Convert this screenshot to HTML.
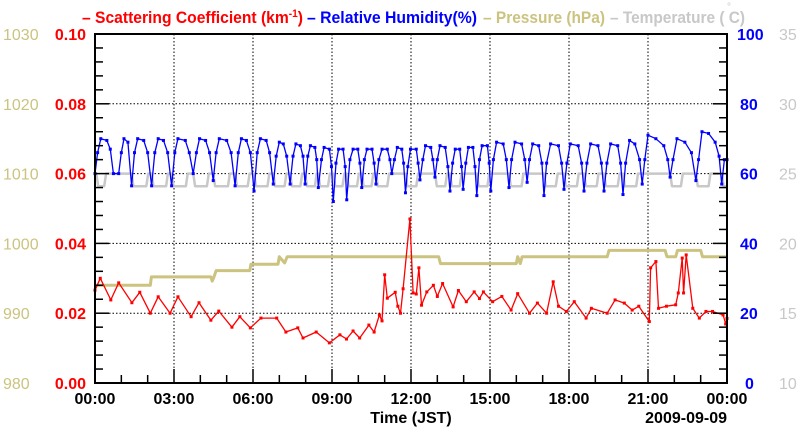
<!DOCTYPE html>
<html><head><meta charset="utf-8"><style>
html,body{margin:0;padding:0;background:#fff;}
svg{display:block;font-family:"Liberation Sans",sans-serif;}
</style></head><body>
<svg id="chart" width="800" height="434" viewBox="0 0 800 434" xmlns="http://www.w3.org/2000/svg">
<g id="title" font-weight="bold" font-size="17">
<text x="82" y="23" fill="#f00" textLength="221" lengthAdjust="spacingAndGlyphs">– Scattering Coefficient (km<tspan dy="-6" font-size="11">-1</tspan><tspan dy="6">)</tspan></text>
<text x="307" y="23" fill="#00f" textLength="170" lengthAdjust="spacingAndGlyphs">– Relative Humidity(%)</text>
<text x="483" y="23" fill="#cbc37f" textLength="122" lengthAdjust="spacingAndGlyphs">– Pressure (hPa)</text>
<text x="610" y="23" fill="#c8c8c8" textLength="135" lengthAdjust="spacingAndGlyphs">– Temperature (  C)</text>
<text x="727" y="10" fill="#c8c8c8" font-size="10" font-weight="normal">°</text>
</g>
<g id="grid"></g>
<g id="series"></g>
<g id="axes"></g>
</svg>
<script>
// ---- data ----
const xTickLabels = ["00:00","03:00","06:00","09:00","12:00","15:00","18:00","21:00","00:00"];
const scatTicks = ["0.00","0.02","0.04","0.06","0.08","0.10"];
const pressTicks = ["980","990","1000","1010","1020","1030"];
const rhTicks = ["0","20","40","60","80","100"];
const tempTicks = ["10","15","20","25","30","35"];

const scatTimes = [0,0.2,0.6,0.9,1.4,1.7,2.1,2.4,2.85,3.15,3.65,3.95,4.4,4.7,5.2,5.5,5.9,6.3,6.9,7.25,7.7,7.9,8.4,8.9,9.3,9.55,9.8,10.05,10.4,10.6,10.8,10.9,11.0,11.1,11.4,11.5,11.6,11.7,11.96,12.08,12.2,12.3,12.4,12.6,12.85,13.0,13.2,13.6,13.8,14.1,14.4,14.6,14.75,15.1,15.45,15.8,16.05,16.5,16.8,17.15,17.4,17.6,17.9,18.2,18.65,18.85,19.45,19.75,20.1,20.4,20.65,21.05,21.1,21.3,21.4,21.7,22.05,22.15,22.3,22.35,22.45,22.7,22.95,23.2,23.45,23.85,23.95,24.0];
const scatValues = [0.0266,0.030,0.0238,0.0287,0.023,0.026,0.020,0.0247,0.020,0.0247,0.019,0.023,0.018,0.0206,0.016,0.019,0.0158,0.0186,0.0186,0.0146,0.0158,0.0129,0.0146,0.0115,0.0138,0.0126,0.0149,0.0129,0.0166,0.0146,0.0195,0.0178,0.031,0.0243,0.026,0.022,0.020,0.027,0.047,0.0258,0.0255,0.033,0.0223,0.0261,0.028,0.0248,0.0285,0.0218,0.0265,0.0233,0.0261,0.0242,0.0261,0.0233,0.0248,0.0209,0.0256,0.020,0.0229,0.020,0.029,0.022,0.0205,0.0233,0.0186,0.0214,0.020,0.0238,0.0229,0.0209,0.022,0.0176,0.033,0.0348,0.0214,0.022,0.0224,0.0258,0.0358,0.0258,0.0367,0.0214,0.0186,0.0205,0.0205,0.0195,0.0169,0.0185];

const rhTimes = [0,0.1,0.22,0.45,0.58,0.7,0.9,1.0,1.1,1.25,1.39,1.5,1.62,1.85,2.0,2.15,2.27,2.4,2.6,2.76,2.91,3.03,3.15,3.43,3.58,3.73,3.85,3.97,4.2,4.35,4.49,4.6,4.72,5.0,5.17,5.32,5.44,5.56,5.75,5.9,6.04,6.16,6.28,6.5,6.63,6.77,6.88,7.0,7.15,7.28,7.41,7.52,7.63,7.8,7.9,7.98,8.08,8.18,8.35,8.42,8.48,8.6,8.7,8.9,8.98,9.05,9.15,9.25,9.42,9.5,9.56,9.68,9.8,9.98,10.06,10.13,10.23,10.33,10.52,10.6,10.67,10.78,10.9,11.1,11.2,11.27,11.37,11.48,11.65,11.72,11.79,11.88,11.98,12.2,12.27,12.34,12.45,12.55,12.75,12.83,12.91,13.0,13.1,13.3,13.4,13.48,13.58,13.68,13.85,13.92,13.98,14.08,14.18,14.35,14.43,14.5,14.6,14.7,14.9,14.97,15.03,15.13,15.25,15.5,15.62,15.72,15.82,15.95,16.2,16.32,16.41,16.5,16.62,16.85,16.97,17.05,17.15,17.3,17.6,17.72,17.81,17.92,18.05,18.35,18.48,18.57,18.68,18.82,19.1,19.23,19.33,19.44,19.58,19.85,19.96,20.05,20.15,20.3,20.5,20.68,20.78,20.88,21.0,21.3,21.6,21.75,21.84,21.95,22.1,22.4,22.65,22.82,22.92,23.05,23.3,23.55,23.7,23.8,23.9,24.0];
const rhValues = [60,66,70,69.5,67,60,60,66,70,69,56.5,66,70,69.5,66,56.5,66,70,69.5,66,56.5,66,70,69.5,66,60,66,70,69.5,66,58,66,70,69.5,66,56.5,66,70,69.5,66,55,66,70,69.5,66,57,65,69,68.5,65,57,65,68.5,68,65,57,65,68,67.5,64,56,64,67.5,67,62,52,63,67,67,62,52.5,64,67,67,63,56,64,67,67,63,57,64,67,67,64,60,64,67.5,67,63,54.5,62,67,67,63,58.2,64,68,67.5,64,59,64,68,67.5,62,55,63,67,67,62,55.5,63,67.5,67.5,62,53.7,64,68,68,63,55,64,69,68.5,64,56,64,69,68.5,64,57.5,64,68.5,68,63,53.7,63,68.5,68,63,55.5,63,68.5,68,63,55,63,68.5,68,63,55,63,68.5,68,63,54,63,69.5,68.5,64,57,64,71,70,68,64,59,64,70,69,66,58,64,72,71.5,69,65,57,64,64];

const tempTimes = [0,0.05,0.12,0.35,0.42,1.39,1.46,1.95,2.02,2.15,2.22,2.7,2.77,2.91,2.98,3.45,3.52,3.73,3.8,4.25,4.32,4.49,4.56,5.05,5.12,5.32,5.39,5.8,5.87,6.04,6.11,6.55,6.62,6.77,6.84,7.2,7.27,7.41,7.48,7.8,7.87,7.98,8.05,8.35,8.42,8.48,8.55,8.85,8.92,9.05,9.12,9.4,9.47,9.56,9.63,9.95,10.02,10.13,10.2,10.5,10.57,10.67,10.74,11.1,11.17,11.79,11.86,12.2,12.27,12.91,12.98,13.3,13.37,13.48,13.55,13.85,13.92,14.5,14.57,14.9,14.97,15.72,15.79,16.2,16.27,17.05,17.12,17.5,17.57,17.81,17.88,18.3,18.37,18.57,18.64,19.05,19.12,19.33,19.4,19.85,19.92,20.05,20.12,20.55,20.62,21.84,21.91,22.25,22.32,22.82,22.89,23.3,23.37,23.8,23.87,24.0];
const tempValues = [25,25,24.1,24.1,25,25,24.1,24.1,25,25,24.1,24.1,25,25,24.1,24.1,25,25,24.1,24.1,25,25,24.1,24.1,25,25,24.1,24.1,25,25,24.1,24.1,25,25,24.1,24.1,25,25,24.1,24.1,25,25,24.1,24.1,25,25,24.1,24.1,25,25,24.1,24.1,25,25,24.1,24.1,25,25,24.1,24.1,25,25,24.1,24.1,25,25,24.1,24.1,25,25,24.1,24.1,25,25,24.1,24.1,25,25,24.1,24.1,25,25,24.1,24.1,25,25,24.1,24.1,25,25,24.1,24.1,25,25,24.1,24.1,25,25,24.1,24.1,25,25,24.1,24.1,25,25,24.1,24.1,25,25,24.1,24.1,25,25,24.1,24.1];

const pressTimes = [0,2.1,2.14,4.4,4.45,4.52,4.6,5.88,5.92,6.95,7.0,7.2,7.3,13.05,13.12,16.0,16.05,16.15,16.22,19.45,19.52,21.65,21.72,22.05,22.12,23.0,23.07,24.0];
const pressValues = [994.0,994.0,995.2,995.2,994.6,995.2,996.1,996.1,997.0,997.0,998.1,997.2,998.1,998.1,997.1,997.1,998.1,997.1,998.1,998.1,999.0,999.0,998.1,998.1,999.0,999.0,998.1,998.1];

// ---- scales ----
const X0=95, X1=727, Y0=383, Y1=34;
const xs = h => X0 + h/24*(X1-X0);
const yScat = v => Y0 - v/0.1*(Y0-Y1);
const yRH = v => Y0 - v/100*(Y0-Y1);
const yP = v => Y0 - (v-980)/50*(Y0-Y1);
const yT = v => Y0 - (v-10)/25*(Y0-Y1);
const NS="http://www.w3.org/2000/svg";
function mk(tag, attrs, parent){const e=document.createElementNS(NS,tag);for(const k in attrs)e.setAttribute(k,attrs[k]);parent.appendChild(e);return e;}
const grid=document.getElementById('grid'), series=document.getElementById('series'), axes=document.getElementById('axes');

for(let i=1;i<8;i++){
  const g=mk('line',{x1:xs(i*3),x2:xs(i*3),y1:Y1,y2:Y0,stroke:'#000','stroke-width':1,'stroke-dasharray':'1.5,2'},grid);
  
  
}
for(let i=1;i<5;i++){
  const g=mk('line',{x1:X0,x2:X1,y1:yScat(i*0.02),y2:yScat(i*0.02),stroke:'#000','stroke-width':1,'stroke-dasharray':'1.5,2'},grid);
  
  
}

function line(times, vals, ys, color, w, name){
  const pts = times.map((t,i)=>xs(t).toFixed(1)+','+ys(vals[i]).toFixed(1)).join(' ');
  const p=mk('polyline',{points:pts,fill:'none',stroke:color,'stroke-width':w,'stroke-linejoin':'round'},series);
  
  
}
line(tempTimes,tempValues,yT,'#c8c8c8',2.5,'temperature-line');
line(pressTimes,pressValues,yP,'#cbc37f',3,'pressure-line');
line(rhTimes,rhValues,yRH,'#0000ff',1.3,'humidity-line');
rhTimes.forEach((t,i)=>{
  const m=mk('rect',{x:xs(t)-1.5,y:yRH(rhValues[i])-1.5,width:3,height:3,fill:'#0000ff'},series);
  
  
});
line(scatTimes,scatValues,yScat,'#ff0000',1.3,'scattering-line');
scatTimes.forEach((t,i)=>{
  const m=mk('rect',{x:xs(t)-1.5,y:yScat(scatValues[i])-1.5,width:3,height:3,fill:'#ff0000'},series);
  
  
});

const fr=mk('rect',{x:X0,y:Y1,width:X1-X0,height:Y0-Y1,fill:'none',stroke:'#000','stroke-width':2},axes);


for(let i=0;i<=25;i++){
  const y=Y0-i/25*(Y0-Y1), L=(i%5==0)?14:8;
  const a=mk('line',{x1:X0,x2:X0+L,y1:y,y2:y,stroke:'#000','stroke-width':1.5},axes);
  
  
  const b=mk('line',{x1:X1-L,x2:X1,y1:y,y2:y,stroke:'#000','stroke-width':1.5},axes);
  
  
}
for(let h=0;h<=24;h++){
  const L=(h%3==0)?14:8;
  const t=mk('line',{x1:xs(h),x2:xs(h),y1:Y0,y2:Y0-L,stroke:'#000','stroke-width':1.5},axes);
  
  
}
function txt(s,x,y,attrs,name){const e=mk('text',Object.assign({x:x,y:y,'font-size':16,'font-weight':'bold'},attrs),axes);e.textContent=s;
  
  return e;}
for(let i=0;i<6;i++){
  const y=Y0-i*(Y0-Y1)/5+6;
  txt(scatTicks[i],86,y,{'text-anchor':'end',fill:'#f00'},'scattering-tick-label');
  txt(pressTicks[i],3,y,{fill:'#cbc37f','font-weight':'normal'},'pressure-tick-label');
  txt(rhTicks[i],i==0?745:(i==5?737:740),y,{fill:'#00f'},'humidity-tick-label');
  txt(tempTicks[i],779,y,{fill:'#c8c8c8','font-weight':'normal'},'temperature-tick-label');
}
xTickLabels.forEach((s,i)=>txt(s,xs(i*3),404,{'text-anchor':'middle',fill:'#000'},'x-tick-label'));
txt('Time (JST)',411,423,{'text-anchor':'middle',fill:'#000'},'x-axis-title');
txt('2009-09-09',727,423,{'text-anchor':'end',fill:'#000'},'date-label');
</script>
</body></html>
